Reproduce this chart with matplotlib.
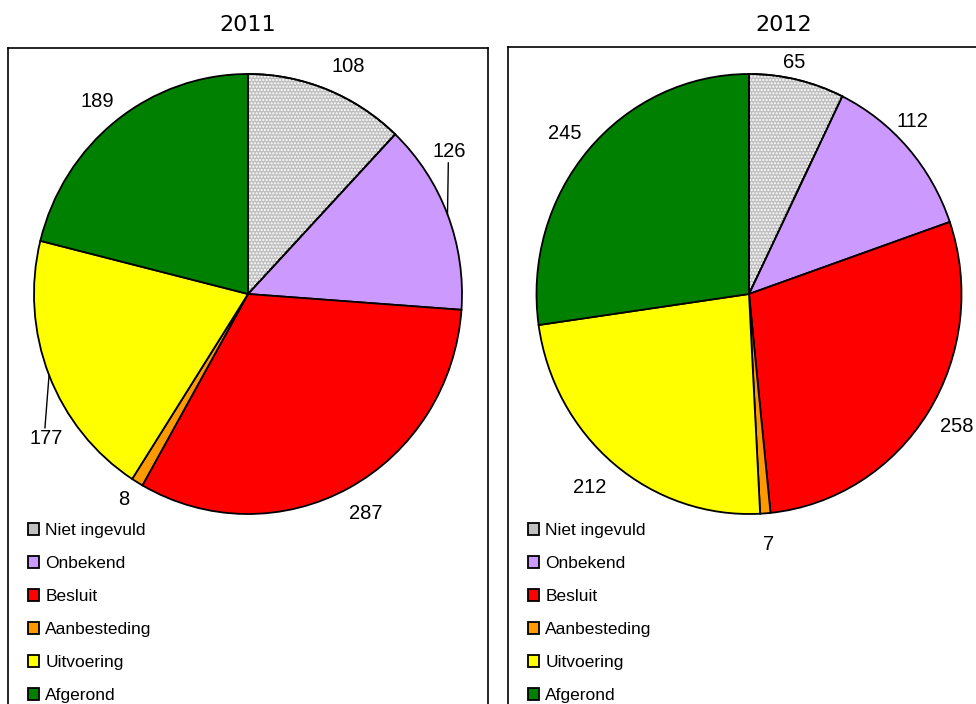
import matplotlib
matplotlib.use("Agg")
from matplotlib import pyplot as plt
from matplotlib.patches import Wedge
import numpy as np

# data
categories = ['Niet ingevuld', 'Onbekend', 'Besluit', 'Aanbesteding', 'Uitvoering', 'Afgerond']
values_2011 = [108, 126, 287, 8, 177, 189]
values_2012 = [65, 112, 258, 7, 212, 245]
years = ['2011', '2012']

colors = ['#C0C0C0', '#CC99FF', '#FF0000', '#FF9900', '#FFFF00', '#008000']

W, H = 976, 704
fig = plt.figure(figsize=(W / 100, H / 100), dpi=100)

# boxes in pixel coordinates (left, right, top, bottom) -- y counted from top
boxes = [(8, 488, 48, 760), (508, 1060, 47, 760)]
centers = [(248, 294), (749, 294)]
radius = 220
# the original pies are a bit narrower than high
x_stretch = [220 / 214, 220 / 212.5]
title_x = [248, 784]
label_dist = [[1.13, 1.12, 1.13, 1.09, 1.13, 1.11],
              [1.07, 1.08, 1.12, 1.14, 1.14, 1.11]]
# clockwise shifts (degrees) of single labels, like the original
label_shift = [[2, -14, 0, 0, -14, 0], [-2, -5, 0, 0, 0, 0]]
leaders = [[1, 4], []]

all_values = [values_2011, values_2012]

for i in range(2):
    x0, x1, top, bot = boxes[i]
    ax = fig.add_axes([x0 / W, (H - bot) / H, (x1 - x0) / W, (bot - top) / H])
    cx, cy = centers[i][0], H - centers[i][1]
    sx = x_stretch[i]

    def px(x):
        return cx + (x - cx) * sx

    wedges, _ = ax.pie(all_values[i], colors=colors, startangle=90, counterclock=False,
                       center=(cx, cy), radius=radius, frame=True,
                       wedgeprops=dict(edgecolor='black', linewidth=1.3))
    ax.set_xlim(px(x0), px(x1))
    ax.set_ylim(H - bot, H - top)
    ax.set_aspect('auto')
    ax.set_xticks([])
    ax.set_yticks([])
    for s in ax.spines.values():
        s.set_linewidth(1.2)
        s.set_color('black')

    # dotted pattern on the first slice
    w0 = wedges[0]
    ax.add_patch(Wedge(w0.center, w0.r, w0.theta1, w0.theta2, facecolor='none',
                       edgecolor='white', linewidth=0, hatch='.....', zorder=3))
    ax.add_patch(Wedge(w0.center, w0.r, w0.theta1, w0.theta2, facecolor='none',
                       edgecolor='black', linewidth=1.3, zorder=4))

    # value labels (offsets measured in screen pixels)
    for k, w in enumerate(wedges):
        mid = np.deg2rad((w.theta1 + w.theta2) / 2)
        ang = mid - np.deg2rad(label_shift[i][k])
        tx = px(cx + label_dist[i][k] * radius * np.cos(ang))
        ty = cy + label_dist[i][k] * radius * np.sin(ang)
        ax.text(tx, ty, str(all_values[i][k]), ha='center', va='center',
                fontsize=14.5, family='Liberation Sans', zorder=5)
        if k in leaders[i]:
            # line from the label to the middle of the slice edge
            ex = cx + radius * np.cos(mid)
            ey = cy + radius * np.sin(mid)
            sy = ty - 11 if ey < ty else ty + 11
            ax.plot([tx - 1, ex], [sy, ey], color='black', linewidth=1, zorder=5)

    ax.text(px(title_x[i]), H - 25, years[i], ha='center', va='center', fontsize=16,
            family='DejaVu Sans', clip_on=False)

    ax.legend(wedges, categories, loc='upper left',
              bbox_to_anchor=(px(x0 + 20), H - 523), bbox_transform=ax.transData,
              frameon=False, prop={'family': 'Liberation Sans', 'size': 12.5},
              handlelength=0.65, handleheight=0.65, handletextpad=0.35,
              labelspacing=1.04, borderpad=0, borderaxespad=0)

fig.savefig('out.png', dpi=100)
